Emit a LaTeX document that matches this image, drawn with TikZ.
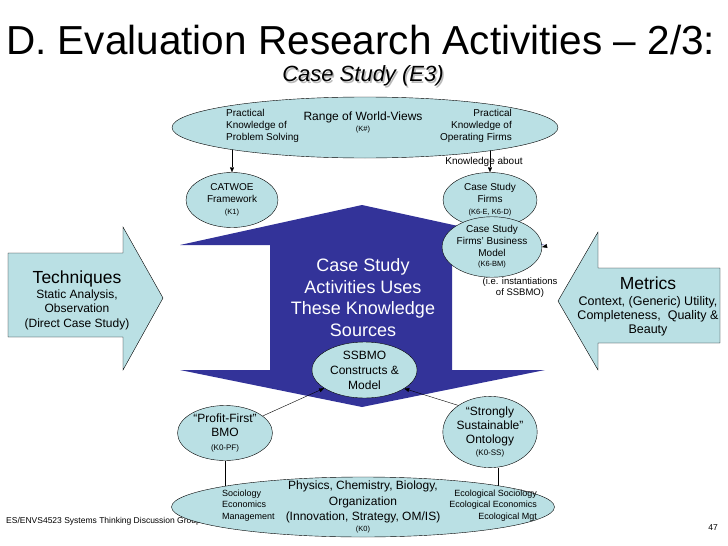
\documentclass[tikz,border=0pt]{standalone}
\usepackage{fontspec}
\setmainfont{Liberation Sans}
\usetikzlibrary{arrows.meta,shapes.geometric,backgrounds}
\definecolor{bubblefill}{RGB}{186,224,228}
\definecolor{shapeblue}{RGB}{51,51,153}
\newcommand{\fsz}[2]{\fontsize{#1}{#2}\selectfont}

\begin{document}
\begin{tikzpicture}[x=1pt, y=-1pt,
    bubble/.style={ellipse, draw, fill=bubblefill, inner sep=0pt, align=center},
    note/.style={align=center, inner sep=0pt},
    link/.style={-{Triangle[length=5pt, width=4pt]}, thin},
    bigarrow/.style={draw, fill=bubblefill, thin},
  ]
    \useasboundingbox (0,0) rectangle (728,546);

    \node[anchor=west, inner sep=0pt, font=\fsz{40.5}{44}] (title) at (6,40) {D. Evaluation Research Activities – 2/3:};
    \node[note, font=\fsz{22}{24}\itshape, text=gray!55] (subshadow) at (364.5,77.5) {Case Study (E3)};
    \node[note, font=\fsz{22}{24}\itshape] (subtitle) at (363,76) {Case Study (E3)};

    % central double-headed shape
    \begin{scope}[on background layer]
      \fill[shapeblue] (180,245) -- (362,205) -- (545,245) -- (452,245) -- (452,370)
        -- (545,370) -- (362,407) -- (180,370) -- (270,370) -- (270,245) -- cycle;
    \end{scope}
    \node[note, text=white, font=\fsz{18}{21.7}] (uses) at (363,297.5) {Case Study\\Activities Uses\\These Knowledge\\Sources};

    % side arrows
    \draw[bigarrow] (8,253) -- (123,253) -- (123,227) -- (163,298) -- (123,370) -- (123,337) -- (8,337) -- cycle;
    \node[note, font=\fsz{17.5}{20}] (tech) at (77,279) {Techniques};
    \node[note, font=\fsz{12}{14.5}] (techsub) at (77,309.5) {Static Analysis,\\Observation\\(Direct Case Study)};

    \draw[bigarrow] (720,268) -- (598,268) -- (598,232) -- (558,301) -- (598,370) -- (598,343) -- (720,343) -- cycle;
    \node[note, font=\fsz{17.5}{20}] (metrics) at (648,283) {Metrics};
    \node[note, font=\fsz{12.5}{14}] (metricsub) at (648,316) {Context, (Generic) Utility,\\Completeness,~ Quality \&\\Beauty};

    % knowledge sources
    \node[bubble, minimum width=386, minimum height=61] (views) at (365,127.5) {};
    \node[anchor=west, align=left, inner sep=0pt, font=\fsz{10}{11.8}] (probsolve) at (226,126) {Practical\\Knowledge of\\Problem Solving};
    \node[anchor=east, align=right, inner sep=0pt, font=\fsz{10}{11.8}] (opfirms) at (512,126) {Practical\\Knowledge of\\Operating Firms};
    \node[note, font=\fsz{12}{14}] (range) at (363,117) {Range of World-Views};
    \node[note, font=\fsz{7.5}{9}] (kall) at (363,130) {(K\#)};

    \node[bubble, minimum width=92, minimum height=55, font=\fsz{10}{12}] (catwoe) at (232,200) {CATWOE\\Framework\\{\fsz{7.5}{9}(K1)}};
    \node[bubble, minimum width=94, minimum height=55, font=\fsz{10}{12}] (firms) at (490,200) {Case Study\\Firms\\{\fsz{7.5}{9}(K6-E, K6-D)}};
    \node[bubble, minimum width=92, minimum height=52, font=\fsz{10}{12}] (bm) at (492,247) {Case Study\\Firms’ Business\\Model\\[-2pt]{\fsz{7.5}{9}(K6-BM)}};
    \node[note, font=\fsz{9.5}{11}] (inst) at (520,287.5) {(i.e. instantiations\\of SSBMO)};
    \node[note, font=\fsz{10}{12}, fill=white, inner sep=0.5pt, fill opacity=0, text opacity=1] (about) at (484,162) {Knowledge about};

    \node[bubble, minimum width=105, minimum height=56, font=\fsz{12}{15}] (ssbmo) at (364.5,370) {SSBMO\\Constructs \&\\Model};

    \node[bubble, minimum width=95, minimum height=55, font=\fsz{12}{14}] (profit) at (225,433) {“Profit-First”\\BMO\\{\fsz{8}{9}(K0-PF)}};
    \node[bubble, minimum width=88, minimum height=60, font=\fsz{12}{14}] (strong) at (490,432) {“Strongly\\Sustainable”\\Ontology\\[-2pt]{\fsz{8}{9}(K0-SS)}};

    \node[anchor=west, inner sep=0pt, font=\fsz{8.5}{10}] (footer) at (6,521) {ES/ENVS4523 Systems Thinking Discussion Group};
    \node[anchor=east, inner sep=0pt, font=\fsz{8.5}{10}] (pagenum) at (718,528) {47};

    \node[bubble, minimum width=383, minimum height=60] (base) at (363,507) {};
    \node[note, font=\fsz{12}{15.5}] (sciences) at (363,502) {Physics, Chemistry, Biology,\\Organization\\(Innovation, Strategy, OM/IS)};
    \node[note, font=\fsz{7.5}{9}] (kzero) at (363,530) {(K0)};
    \node[anchor=west, align=left, inner sep=0pt, font=\fsz{9}{11.5}] (socio) at (222,505.5) {Sociology\\Economics\\Management};
    \node[anchor=east, align=right, inner sep=0pt, font=\fsz{9}{11.5}] (eco) at (537,505.5) {Ecological Sociology\\Ecological Economics\\Ecological Mgt};

    % connectors
    \begin{scope}[on background layer]
      \draw[link] (catwoe.north |- views.center) -- (catwoe.north);
      \draw[link] (firms.north |- views.center) -- (firms.north);
      \draw[link] (profit) -- (ssbmo);
      \draw[link] (strong.140) -- (ssbmo.-25);
      \draw (profit.south) -- (profit.south |- base.center);
      \draw ([xshift=8pt]strong.south) -- ([xshift=8pt]strong.south |- base.center);
    \end{scope}
    \coordinate (bmtick) at (547,246);
    \draw[link] (bmtick) -- (bm.east);
  \end{tikzpicture}
\end{document}
